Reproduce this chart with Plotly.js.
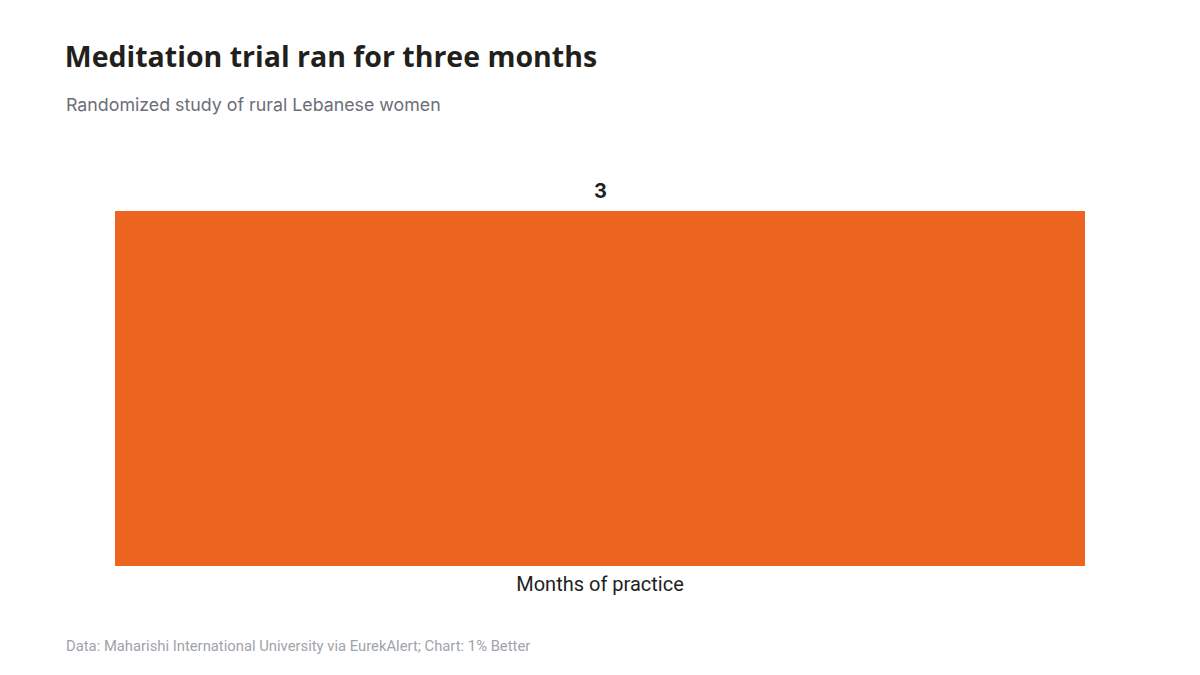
<!DOCTYPE html>
<html lang="en">
  <head>
    <meta charset="UTF-8" />
    <title>Meditation trial ran for three months</title>
    <script src="https://cdn.plot.ly/plotly-3.0.1.min.js"></script>
    <style>
      body {
        margin: 0;
        background: #ffffff;
      }
      #chart {
        width: 1200px;
        height: 675px;
      }
    </style>
  </head>
  <body>
    <div id="chart"></div>
    <script>
      // chart data
      const categories = ["Months of practice"];
      const months = [3];
      const valueLabels = ["3"];

      const trace = {
        type: "bar",
        x: categories,
        y: months,
        marker: { color: "#ec6520" },
        width: 1,
        hoverinfo: "x+y",
      };

      // value labels on top of each bar
      const valueNotes = categories.map((c, i) => ({
        text: "<b>" + valueLabels[i] + "</b>",
        x: c,
        y: months[i],
        xref: "x",
        yref: "y",
        yanchor: "bottom",
        yshift: 6,
        showarrow: false,
        font: { family: "Inter, sans-serif", size: 20, color: "#231f1c" },
      }));

      const layout = {
        width: 1200,
        height: 675,
        margin: { l: 115, r: 115, t: 211, b: 109 },
        paper_bgcolor: "#ffffff",
        plot_bgcolor: "#ffffff",
        showlegend: false,
        bargap: 0,
        title: {
          text: "<b>Meditation trial ran for three months</b>",
          font: { family: "'Open Sans', sans-serif", size: 28.5, color: "#231f1c" },
          xref: "container",
          yref: "container",
          x: 0.054,
          xanchor: "left",
          y: 0.9156,
          yanchor: "middle",
        },
        xaxis: {
          showgrid: false,
          zeroline: false,
          showline: false,
          ticks: "",
          ticklabelstandoff: 4,
          tickfont: { family: "Roboto, sans-serif", size: 20, color: "#231f1c" },
        },
        yaxis: {
          range: [0, 3],
          visible: false,
          showgrid: false,
          zeroline: false,
        },
        annotations: valueNotes.concat([
          {
            text: "Randomized study of rural Lebanese women",
            xref: "paper",
            yref: "paper",
            x: -0.0527,
            y: 1.2986,
            xanchor: "left",
            yanchor: "middle",
            showarrow: false,
            font: { family: "Inter, sans-serif", size: 17.8, color: "#6b6e78" },
          },
          {
            text: "Data: Maharishi International University via EurekAlert; Chart: 1% Better",
            xref: "paper",
            yref: "paper",
            x: -0.0527,
            y: -0.2254,
            xanchor: "left",
            yanchor: "middle",
            showarrow: false,
            font: { family: "Roboto, sans-serif", size: 14.8, color: "#a0a3ab" },
          },
        ]),
      };

      Plotly.newPlot("chart", [trace], layout, { displayModeBar: false, staticPlot: true });
    </script>
  </body>
</html>
